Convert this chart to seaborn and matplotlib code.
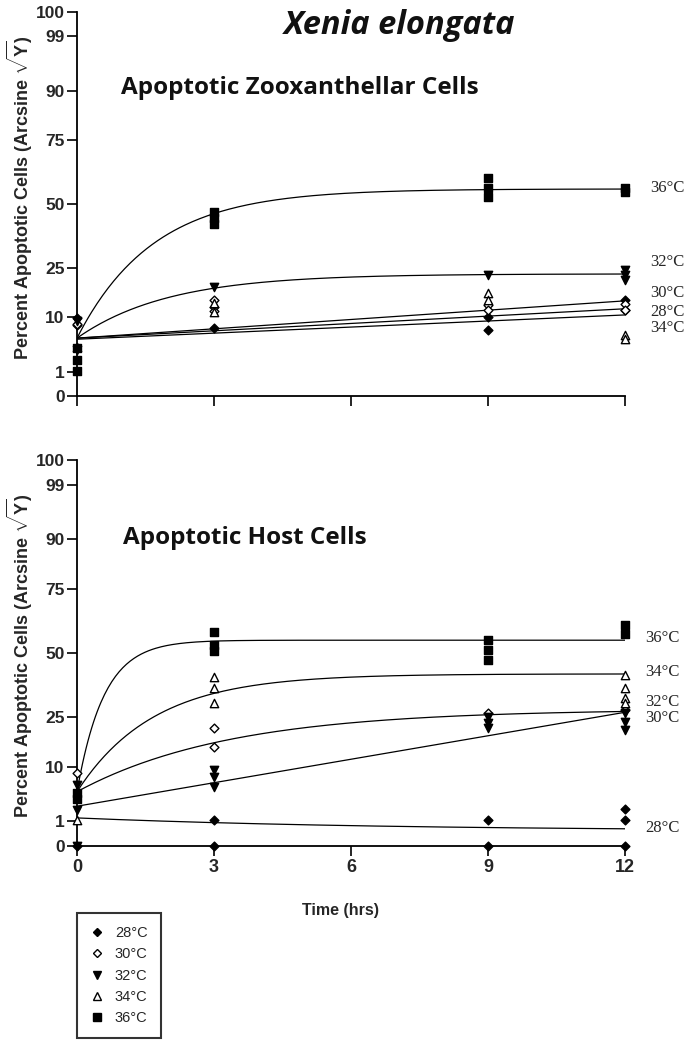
import numpy as np
import pandas as pd
import matplotlib
matplotlib.use("Agg")
import matplotlib.pyplot as plt
from matplotlib.lines import Line2D
import seaborn as sns

# ---- data (percent apoptotic cells) ----
temps = [28, 30, 32, 34, 36]
temp_labels = ["28°C", "30°C", "32°C", "34°C", "36°C"]

# Zooxanthellae (top panel)
zoox_28_t = [0, 0, 3, 9, 9, 12, 12]
zoox_28_y = [9.8, 8.2, 7.5, 7.1, 10.2, 14.6, 12.0]
zoox_30_t = [0, 3, 3, 3, 9, 9, 12, 12]
zoox_30_y = [8.5, 14.6, 12.7, 11.5, 13.2, 11.9, 13.4, 11.9]
zoox_32_t = [0, 0, 3, 9, 12, 12, 12]
zoox_32_y = [9.2, 3.5, 18.6, 22.6, 24.3, 22.6, 20.9]
zoox_34_t = [0, 3, 3, 9, 9, 12, 12]
zoox_34_y = [4.0, 13.8, 11.4, 16.7, 14.6, 6.1, 5.3]
zoox_36_t = [0, 0, 0, 3, 3, 3, 9, 9, 9, 12, 12]
zoox_36_y = [3.8, 2.1, 1.06, 46.7, 44.3, 41.8, 60.6, 56.5, 52.8, 56.5, 55.0]

# Host cells (bottom panel)
host_28_t = [0, 3, 3, 9, 9, 12, 12, 12]
host_28_y = [0, 1.1, 0, 1.1, 0, 2.2, 1.1, 0]
host_30_t = [0, 3, 3, 9, 12]
host_30_y = [8.6, 21.3, 15.4, 26.6, 27.6]
host_32_t = [0, 0, 0, 3, 3, 3, 9, 9, 9, 12, 12, 12]
host_32_y = [6.0, 2.1, 0, 9.3, 7.7, 5.7, 25.1, 23.0, 21.3, 26.6, 23.4, 20.6]
host_34_t = [0, 3, 3, 3, 12, 12, 12, 12]
host_34_y = [1.1, 40.3, 35.9, 30.1, 41.0, 35.9, 32.1, 30.1]
host_36_t = [0, 0, 3, 3, 3, 9, 9, 9, 12, 12]
host_36_y = [4.6, 3.6, 58.5, 53.2, 50.8, 55.2, 51.2, 47.2, 61.3, 57.8]

# fitted curves: value at 0 h, value at 12 h (percent), rate constant (0 = straight)
zoox_fit_start = [5.5, 5.5, 5.5, 5.3, 5.5]
zoox_fit_end = [12.2, 14.4, 22.9, 10.6, 56.1]
zoox_fit_k = [0, 0, 0.5, 0, 0.6]
host_fit_start = [1.3, 4.8, 2.6, 4.8, 4.8]
host_fit_end = [0.49, 27.1, 26.8, 41.5, 55.2]
host_fit_k = [0.15, 0.3, 0, 0.6, 1.7]

ytick_pct = [0, 1, 10, 25, 50, 75, 90, 99, 100]
xticks = [0, 3, 6, 9, 12]

# right-hand curve labels (in arcsine degrees)
zoox_label_pos = [19.7, 24.1, 31.4, 15.9, 48.7]
host_label_pos = [4.2, 29.8, 33.6, 40.6, 48.5]

marker_style = {
    28: dict(marker="D", s=20, color="black", edgecolor="black"),
    30: dict(marker="D", s=20, color="white", edgecolor="black"),
    32: dict(marker="v", s=36, color="black", edgecolor="black"),
    34: dict(marker="^", s=36, color="white", edgecolor="black"),
    36: dict(marker="s", s=36, color="black", edgecolor="black"),
}


def arcsine(p):
    return np.degrees(np.arcsin(np.sqrt(np.asarray(p, dtype=float) / 100.0)))


def fit_curve(t, y0, y12, k):
    a0, a12 = arcsine(y0), arcsine(y12)
    if k == 0:
        frac = t / 12.0
    else:
        frac = (1 - np.exp(-k * t)) / (1 - np.exp(-12 * k))
    return a0 + (a12 - a0) * frac


sns.set_style("ticks")
plt.rcParams["font.family"] = ["Liberation Sans", "DejaVu Sans"]
plt.rcParams["mathtext.fontset"] = "custom"
plt.rcParams["mathtext.rm"] = "Liberation Sans:bold"
plt.rcParams["mathtext.it"] = "Liberation Sans:bold"

fig = plt.figure(figsize=(6.96, 10.45), dpi=100)
ax1 = fig.add_axes([77 / 696, 1 - 396 / 1045, 548 / 696, 384 / 1045])
ax2 = fig.add_axes([77 / 696, 1 - 846 / 1045, 548 / 696, 386 / 1045])

panels = [
    (ax1, {28: (zoox_28_t, zoox_28_y), 30: (zoox_30_t, zoox_30_y), 32: (zoox_32_t, zoox_32_y),
           34: (zoox_34_t, zoox_34_y), 36: (zoox_36_t, zoox_36_y)},
     zoox_fit_start, zoox_fit_end, zoox_fit_k, zoox_label_pos, 12.55),
    (ax2, {28: (host_28_t, host_28_y), 30: (host_30_t, host_30_y), 32: (host_32_t, host_32_y),
           34: (host_34_t, host_34_y), 36: (host_36_t, host_36_y)},
     host_fit_start, host_fit_end, host_fit_k, host_label_pos, 12.45),
]

tgrid = np.linspace(0, 12, 300)
for ax, pts, f0, f12, fk, lab_pos, lab_x in panels:
    curves = pd.concat([
        pd.DataFrame({"t": tgrid, "deg": fit_curve(tgrid, f0[i], f12[i], fk[i]), "temp": T})
        for i, T in enumerate(temps)
    ])
    sns.lineplot(data=curves, x="t", y="deg", units="temp", estimator=None,
                 color="black", lw=0.9, ax=ax, legend=False)
    for T in temps:
        t, y = pts[T]
        st = marker_style[T]
        sns.scatterplot(x=t, y=arcsine(y), marker=st["marker"], s=st["s"], color=st["color"],
                        edgecolor=st["edgecolor"], linewidth=1.0, ax=ax, clip_on=False, zorder=3)
    for i, T in enumerate(temps):
        ax.text(lab_x, lab_pos[i], temp_labels[i], family="Liberation Serif", fontsize=12,
                va="center", ha="left", clip_on=False)

    ax.set_xlim(0, 12)
    ax.set_ylim(0, 90)
    ax.set_yticks(arcsine(ytick_pct))
    ax.set_yticklabels([str(v) for v in ytick_pct], fontsize=12.5, fontweight="bold")
    ax.set_xticks(xticks)
    ax.set_xlabel("")
    ax.set_ylabel("")
    ax.tick_params(length=7, width=1.2, color="black", pad=2)
    for side in ["left", "bottom"]:
        ax.spines[side].set_linewidth(1.3)
        ax.spines[side].set_color("black")
    sns.despine(ax=ax)
    ax.set_facecolor("white")

ax1.set_xticklabels([])
ax2.set_xticklabels([str(v) for v in xticks], fontsize=13, fontweight="bold")

# titles and axis labels
fig.text(400 / 696, 1 - 25 / 1045, "Xenia elongata", ha="center", va="center",
         fontsize=23.5, fontweight="bold", style="italic", family="Open Sans", color="#111111")
fig.text(121 / 696, 1 - 88 / 1045, "Apoptotic Zooxanthellar Cells", ha="left", va="center",
         fontsize=17.5, fontweight="bold", family="Open Sans", color="#111111")
fig.text(123 / 696, 1 - 538 / 1045, "Apoptotic Host Cells", ha="left", va="center",
         fontsize=17.5, fontweight="bold", family="Open Sans", color="#111111")
ylab = r"Percent Apoptotic Cells (Arcsine $\sqrt{\mathrm{Y}}$)"
for cy in (198, 656):
    fig.text(20 / 696, 1 - cy / 1045, ylab, rotation=90, ha="center", va="center",
             fontsize=13, fontweight="bold")
fig.text(340 / 696, 1 - 910 / 1045, "Time (hrs)", ha="center", va="center",
         fontsize=11.5, fontweight="bold")

# legend
handles = []
for T in temps:
    st = marker_style[T]
    handles.append(Line2D([], [], ls="none", marker=st["marker"], markersize=np.sqrt(st["s"]),
                          markerfacecolor=st["color"], markeredgecolor="black", markeredgewidth=1.0))
leg = fig.legend(handles, temp_labels, loc="upper left", bbox_to_anchor=(77 / 696, 1 - 913 / 1045),
                 frameon=True, fancybox=False, edgecolor="black", fontsize=10.5,
                 handlelength=1.0, handletextpad=0.7, labelspacing=0.5, borderpad=0.9,
                 borderaxespad=0)
leg.get_frame().set_linewidth(1.5)

fig.savefig("out.png", dpi=100, facecolor="white")
